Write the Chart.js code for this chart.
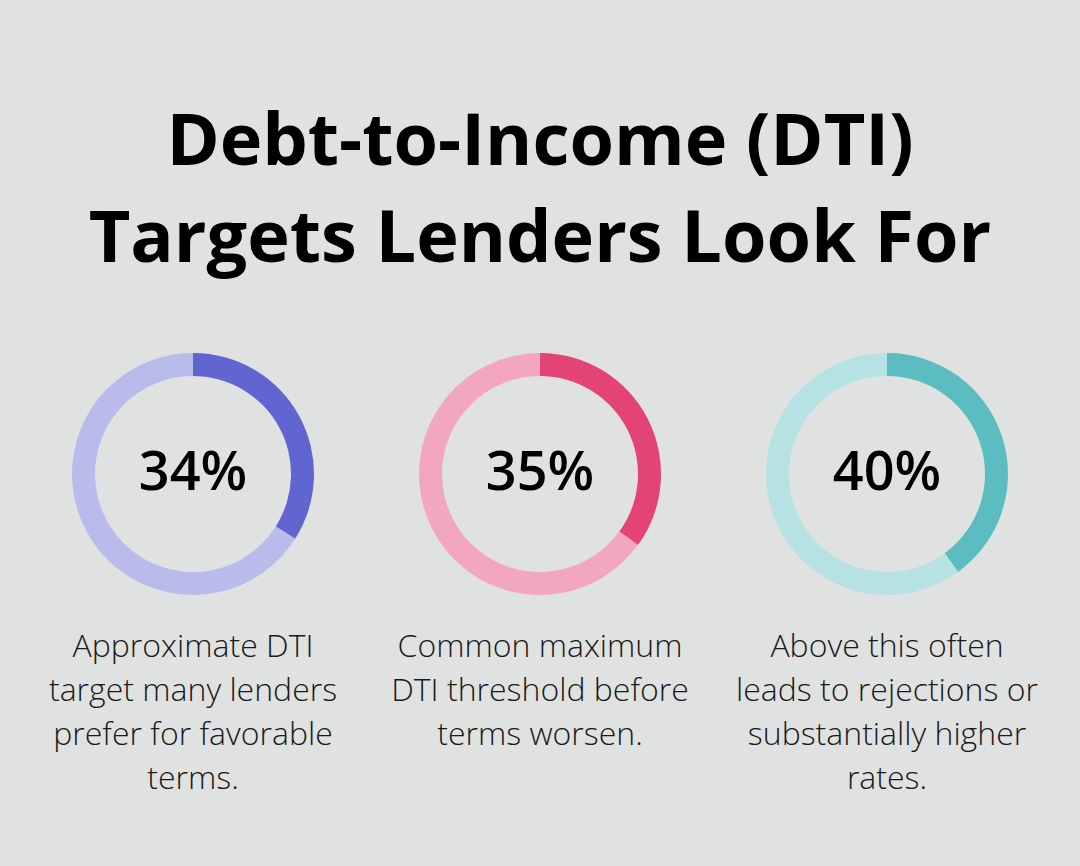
<!DOCTYPE html>
<html>
<head>
<meta charset="utf-8">
<script src="https://cdn.jsdelivr.net/npm/chart.js@4.4.0/dist/chart.umd.min.js"></script>
<style>
  html, body { margin: 0; padding: 0; }
  body {
    width: 1080px; height: 866px; background: #e0e2e1;
    font-family: "Open Sans", sans-serif; position: relative; overflow: hidden;
  }
  h1 {
    position: absolute; left: 0; top: 89px; width: 1080px; margin: 0;
    text-align: center; font-size: 72px; font-weight: 700; line-height: 97px; color: #000;
  }
  .ring { position: absolute; top: 353px; width: 242px; height: 242px; }
  .desc {
    position: absolute; top: 623px; width: 360px; text-align: center;
    font-size: 32px; line-height: 44px; color: #1a1a1a; font-weight: 300;
  }
</style>
</head>
<body>
<h1>Debt-to-Income (DTI)<br>Targets Lenders Look For</h1>
<div id="rings"></div>
<script>
// chart values
const values = [34, 35, 40];
const descLines = [
  ['Approximate DTI', 'target many lenders', 'prefer for favorable', 'terms.'],
  ['Common maximum', 'DTI threshold before', 'terms worsen.'],
  ['Above this often', 'leads to rejections or', 'substantially higher', 'rates.']
];
const mainColors = ['#6065d0', '#e34375', '#5bbdbf'];
const restColors = ['#b9bcea', '#f3a7be', '#b7e2e4'];
const centers = [193, 540, 887];

const centerText = {
  id: 'centerText',
  afterDraw(chart, args, opts) {
    const ctx = chart.ctx;
    const arc = chart.getDatasetMeta(0).data[0];
    ctx.save();
    ctx.font = '600 54px "Open Sans"';
    ctx.fillStyle = '#000';
    ctx.textAlign = 'center';
    ctx.textBaseline = 'middle';
    ctx.fillText(opts.text, arc.x, arc.y + 1);
    ctx.restore();
  }
};

const holder = document.getElementById('rings');
values.forEach(function(v, i) {
  const box = document.createElement('div');
  box.className = 'ring';
  box.style.left = (centers[i] - 121) + 'px';
  const cv = document.createElement('canvas');
  box.appendChild(cv);
  holder.appendChild(box);

  const d = document.createElement('div');
  d.className = 'desc';
  d.style.left = (centers[i] - 180) + 'px';
  d.innerHTML = descLines[i].join('<br>');
  holder.appendChild(d);

  new Chart(cv.getContext('2d'), {
    type: 'doughnut',
    data: {
      labels: ['value', 'rest'],
      datasets: [{
        data: [v, 100 - v],
        backgroundColor: [mainColors[i], restColors[i]],
        borderWidth: 0
      }]
    },
    options: {
      responsive: true,
      maintainAspectRatio: false,
      animation: false,
      cutout: '81%',
      layout: { padding: 0 },
      plugins: {
        legend: { display: false },
        tooltip: { enabled: false },
        centerText: { text: v + '%' }
      }
    },
    plugins: [centerText]
  });
});
</script>
</body>
</html>
